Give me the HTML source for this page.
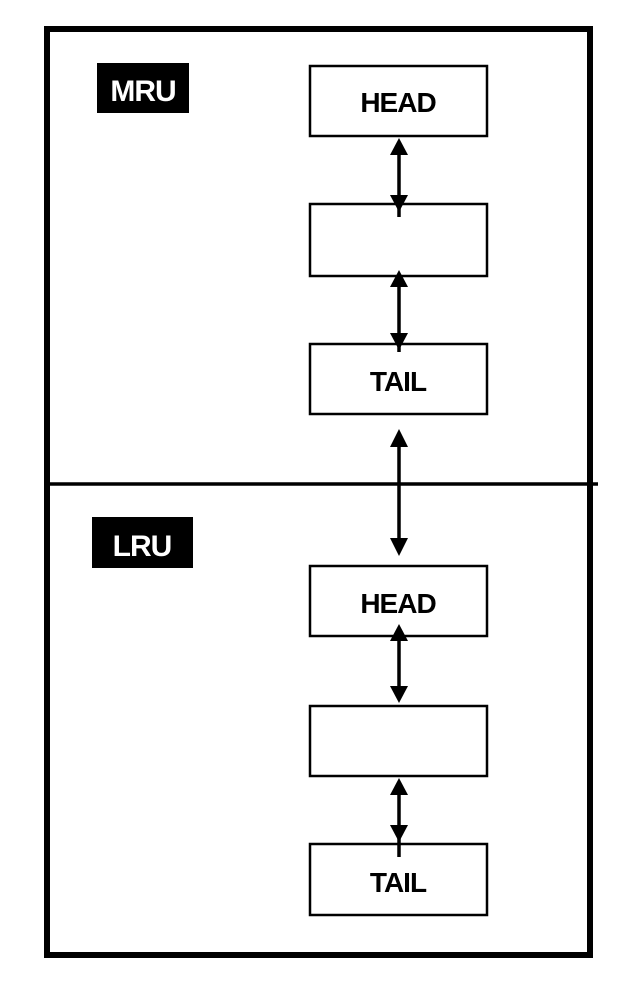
<!DOCTYPE html>
<html><head><style>
html,body{margin:0;padding:0;background:#fff;}
svg{display:block;}
text{font-family:"Liberation Sans",Arial,sans-serif;font-weight:bold;}
</style></head><body>
<svg width="630" height="994" viewBox="0 0 630 994" xmlns="http://www.w3.org/2000/svg">
<rect width="630" height="994" fill="#fff"/>
<rect x="47" y="29" width="543" height="926" fill="none" stroke="#000" stroke-width="6"/>
<line x1="47" y1="484" x2="598" y2="484" stroke="#000" stroke-width="3.5"/>
<rect x="97" y="63" width="92" height="50" fill="#000"/>
<text x="143" y="101" font-size="30" fill="#fff" text-anchor="middle" letter-spacing="-1">MRU</text>
<rect x="92" y="517" width="101" height="51" fill="#000"/>
<text x="142" y="556" font-size="30" fill="#fff" text-anchor="middle" letter-spacing="-1">LRU</text>
<g fill="#fff" stroke="#000" stroke-width="2.5">
<rect x="310" y="66" width="177" height="70"/>
<rect x="310" y="204" width="177" height="72"/>
<rect x="310" y="344" width="177" height="70"/>
<rect x="310" y="566" width="177" height="70"/>
<rect x="310" y="706" width="177" height="70"/>
<rect x="310" y="844" width="177" height="71"/>
</g>
<g font-size="28" text-anchor="middle" fill="#000" letter-spacing="-1">
<text x="398" y="112">HEAD</text>
<text x="398" y="391">TAIL</text>
<text x="398" y="613">HEAD</text>
<text x="398" y="892">TAIL</text>
</g>
<g stroke="#000" stroke-width="3.5">
<line x1="399" y1="150" x2="399" y2="217"/>
<line x1="399" y1="285" x2="399" y2="352"/>
<line x1="399" y1="443" x2="399" y2="542"/>
<line x1="399" y1="638" x2="399" y2="692"/>
<line x1="399" y1="790" x2="399" y2="857"/>
</g>
<g fill="#000">
<polygon points="399,138 390,155 408,155"/>
<polygon points="399,212 390,195 408,195"/>
<polygon points="399,270 390,287 408,287"/>
<polygon points="399,350 390,333 408,333"/>
<polygon points="399,429 390,447 408,447"/>
<polygon points="399,556 390,538 408,538"/>
<polygon points="399,624 390,641 408,641"/>
<polygon points="399,703 390,686 408,686"/>
<polygon points="399,778 390,795 408,795"/>
<polygon points="399,842 390,825 408,825"/>
</g>
</svg>
</body></html>
